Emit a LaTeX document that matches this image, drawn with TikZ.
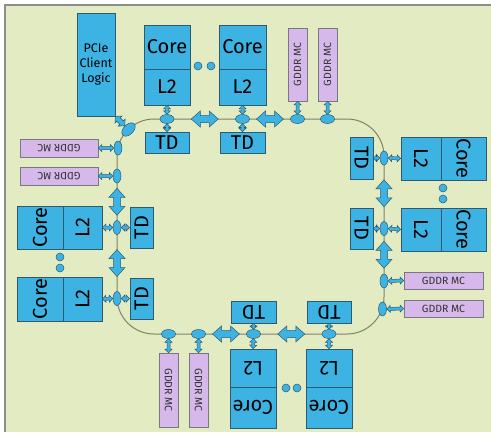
\documentclass[tikz,border=0pt]{standalone}
\usepackage{fontspec}
\setmainfont{Fira Sans}
\usetikzlibrary{calc,shapes.geometric}
\definecolor{bgcol}{HTML}{E3EBC2}
\definecolor{boxblue}{HTML}{3DB3E3}
\definecolor{boxline}{HTML}{2F5A6E}
\definecolor{mcpurple}{HTML}{D6B9EA}
\definecolor{mcline}{HTML}{787880}
\definecolor{ringcol}{HTML}{7F8466}
\definecolor{framecol}{HTML}{8C8C8C}
\tikzset{
  blk/.style={draw=boxline, fill=boxblue, line width=0.7pt, inner sep=0pt, text=black,
              font=\fontsize{20}{24}\selectfont},
  pciebox/.style={blk, font=\fontsize{12.5}{15}\selectfont, align=center},
  mcbox/.style={draw=mcline, fill=mcpurple, line width=0.7pt, inner sep=0pt, text=black!80,
              font=\fontsize{10.5}{12}\selectfont},
  hub/.style={ellipse, draw=boxline, fill=boxblue, line width=0.5pt, inner sep=0pt,
              minimum width=14pt, minimum height=9pt},
  vhub/.style={hub, minimum width=8pt, minimum height=14pt},
  ddot/.style={ellipse, draw=boxline, fill=boxblue, line width=0.5pt, inner sep=0pt,
              minimum width=8pt, minimum height=8pt},
  arr/.style={draw=boxline, fill=boxblue, line width=0.5pt, line join=miter},
  ringpath/.style={draw=ringcol, line width=1pt},
}
% double arrow spanning from #1 to #2; #3 half shaft, #4 half head, #5 head length
\newcommand\linkarrow[5]{%
  \path[arr] let \p1=(#1), \p2=(#2), \n1={atan2(\y2-\y1,\x2-\x1)},
    \n2={veclen(\x2-\x1,\y2-\y1)} in
    [shift={(\p1)}, rotate=\n1] (0,0) -- (#5,#4) -- (#5,#3) -- (\n2-#5,#3) -- (\n2-#5,#4)
    -- (\n2,0) -- (\n2-#5,-#4) -- (\n2-#5,-#3) -- (#5,-#3) -- (#5,-#4) -- cycle;}
\newcommand\smallarrow[2]{\linkarrow{#1}{#2}{1.5}{3.5}{3.5}}
% fat double arrow of fixed length centred between #1 and #2
\newcommand\busarrow[2]{%
  \path[arr] let \p1=(#1), \p2=(#2), \p3=($(\p1)!0.5!(\p2)$),
    \n1={atan2(\y2-\y1,\x2-\x1)} in
    [shift={(\p3)}, rotate=\n1] (-13.5,0) -- (-4.5,8) -- (-4.5,3.5) -- (4.5,3.5) -- (4.5,8)
    -- (13.5,0) -- (4.5,-8) -- (4.5,-3.5) -- (-4.5,-3.5) -- (-4.5,-8) -- cycle;}
\begin{document}
\begin{tikzpicture}[x=1pt, y=-1pt]
\useasboundingbox (0,0) rectangle (491,432);
\fill[white] (0,0) rectangle (491,432);
\fill[bgcol] (5,5) rectangle (491,432);
\draw[framecol, line width=1.5pt] (5,432) -- (5,5) -- (491,5);

% ring
\draw[ringpath, rounded corners=37pt] (117,119) rectangle (384,334);

% ---- top ----
\node[pciebox, minimum width=38, minimum height=103] (pcie) at (96,64.5) {PCIe\\Client\\Logic};
\node[blk, minimum width=46, minimum height=44] (c1) at (167,47) {Core};
\node[blk, minimum width=46, minimum height=36] (l1) at (167,87) {L2};
\node[blk, minimum width=47, minimum height=44] (c2) at (242.5,47) {Core};
\node[blk, minimum width=47, minimum height=36] (l2) at (242.5,87) {L2};
\node[blk, minimum width=44, minimum height=21] (td1) at (167,142.5) {TD};
\node[blk, minimum width=45, minimum height=21] (td2) at (242.5,142.5) {TD};
\node[mcbox, minimum width=19, minimum height=73] (mct1) at (297.5,64.5) {\rotatebox{90}{GDDR MC}};
\node[mcbox, minimum width=19, minimum height=73] (mct2) at (327.5,64.5) {\rotatebox{90}{GDDR MC}};
\node[ddot] (dt1) at (198,66) {};
\node[ddot] (dt2) at (211,66) {};

% ---- right ----
\node[blk, minimum width=40, minimum height=43] (lr1) at (421,158.5) {\rotatebox{-90}{L2}};
\node[blk, minimum width=45, minimum height=43] (cr1) at (463.5,158.5) {\rotatebox{-90}{Core}};
\node[blk, minimum width=40, minimum height=43] (lr2) at (421,229.5) {\rotatebox{-90}{L2}};
\node[blk, minimum width=45, minimum height=43] (cr2) at (463.5,229.5) {\rotatebox{-90}{Core}};
\node[blk, minimum width=23, minimum height=42] (tdr1) at (361.5,158) {\rotatebox{-90}{TD}};
\node[blk, minimum width=23, minimum height=41] (tdr2) at (361.5,228.5) {\rotatebox{-90}{TD}};
\node[mcbox, minimum width=79, minimum height=17] (mcr1) at (443.5,280.5) {GDDR MC};
\node[mcbox, minimum width=79, minimum height=17] (mcr2) at (443.5,308.5) {GDDR MC};
\node[ddot] (dr1) at (443,188) {};
\node[ddot] (dr2) at (443,199) {};

% ---- bottom ----
\node[blk, minimum width=45, minimum height=22] (tdb1) at (253.5,312) {\rotatebox{180}{TD}};
\node[blk, minimum width=44, minimum height=22] (tdb2) at (329,312) {\rotatebox{180}{TD}};
\node[blk, minimum width=46, minimum height=38] (lb1) at (253,368) {\rotatebox{180}{L2}};
\node[blk, minimum width=46, minimum height=41] (cb1) at (253,407.5) {\rotatebox{180}{Core}};
\node[blk, minimum width=46, minimum height=38] (lb2) at (329,368) {\rotatebox{180}{L2}};
\node[blk, minimum width=46, minimum height=41] (cb2) at (329,407.5) {\rotatebox{180}{Core}};
\node[mcbox, minimum width=19, minimum height=74] (mcb1) at (168.5,390) {\rotatebox{-90}{GDDR MC}};
\node[mcbox, minimum width=19, minimum height=74] (mcb2) at (198.5,390) {\rotatebox{-90}{GDDR MC}};
\node[ddot] (db1) at (286,388) {};
\node[ddot] (db2) at (297,388) {};

% ---- left ----
\node[mcbox, minimum width=78, minimum height=18] (mcl1) at (59,148) {\rotatebox{180}{GDDR MC}};
\node[mcbox, minimum width=78, minimum height=18] (mcl2) at (59,176) {\rotatebox{180}{GDDR MC}};
\node[blk, minimum width=46, minimum height=43] (cl1) at (40,227.5) {\rotatebox{90}{Core}};
\node[blk, minimum width=39, minimum height=43] (ll1) at (82.5,227.5) {\rotatebox{90}{L2}};
\node[blk, minimum width=46, minimum height=44] (cl2) at (40,299) {\rotatebox{90}{Core}};
\node[blk, minimum width=39, minimum height=44] (ll2) at (82.5,299) {\rotatebox{90}{L2}};
\node[blk, minimum width=23, minimum height=41] (tdl1) at (141.5,227.5) {\rotatebox{90}{TD}};
\node[blk, minimum width=23, minimum height=41] (tdl2) at (141.5,298.5) {\rotatebox{90}{TD}};
\node[ddot] (dl1) at (60,257) {};
\node[ddot] (dl2) at (60,268) {};

% ---- ring stops ----
\node[hub] (et1) at (167,119) {};
\node[hub] (et2) at (242.5,119) {};
\node[hub] (et3) at (297.5,119) {};
\node[hub] (et4) at (327.5,119) {};
\node[vhub] (er1) at (384,158) {};
\node[vhub] (er2) at (384,228.5) {};
\node[vhub] (er3) at (384,281) {};
\node[vhub] (er4) at (382.5,309) {};
\node[hub] (eb1) at (168.5,334) {};
\node[hub] (eb2) at (198.5,334) {};
\node[hub] (eb3) at (253.5,334) {};
\node[hub] (eb4) at (329,334) {};
\node[vhub] (el1) at (118,148) {};
\node[vhub] (el2) at (117,176) {};
\node[vhub] (el3) at (117,227.5) {};
\node[vhub] (el4) at (117,298.5) {};
\node[hub, minimum width=16pt, minimum height=10pt, rotate=45] (ec) at (128.5,129.5) {};

% ---- short links ----
\smallarrow{l1.south}{et1.north}
\smallarrow{et1.south}{td1.north}
\smallarrow{l2.south}{et2.north}
\smallarrow{et2.south}{td2.north}
\smallarrow{mct1.south}{et3.north}
\smallarrow{mct2.south}{et4.north}
\linkarrow{pcie.south east}{ec.north}{2.5}{5}{4.5}

\smallarrow{tdr1.east}{er1.west}
\smallarrow{er1.east}{lr1.west}
\smallarrow{tdr2.east}{er2.west}
\smallarrow{er2.east}{lr2.west}
\smallarrow{er3.east}{mcr1.west}
\smallarrow{er4.east}{mcr2.west}

\smallarrow{tdb1.south}{eb3.north}
\smallarrow{eb3.south}{lb1.north}
\smallarrow{tdb2.south}{eb4.north}
\smallarrow{eb4.south}{lb2.north}
\smallarrow{eb1.south}{mcb1.north}
\smallarrow{eb2.south}{mcb2.north}

\smallarrow{mcl1.east}{el1.west}
\smallarrow{mcl2.east}{el2.west}
\smallarrow{ll1.east}{el3.west}
\smallarrow{el3.east}{tdl1.west}
\smallarrow{ll2.east}{el4.west}
\smallarrow{el4.east}{tdl2.west}

% ---- ring bus arrows ----
\busarrow{et1}{et2}
\busarrow{et2}{et3}
\busarrow{er1}{er2}
\busarrow{er2}{er3}
\busarrow{eb2}{eb3}
\busarrow{eb3}{eb4}
\busarrow{el2}{el3}
\busarrow{el3}{el4}
\end{tikzpicture}
\end{document}
